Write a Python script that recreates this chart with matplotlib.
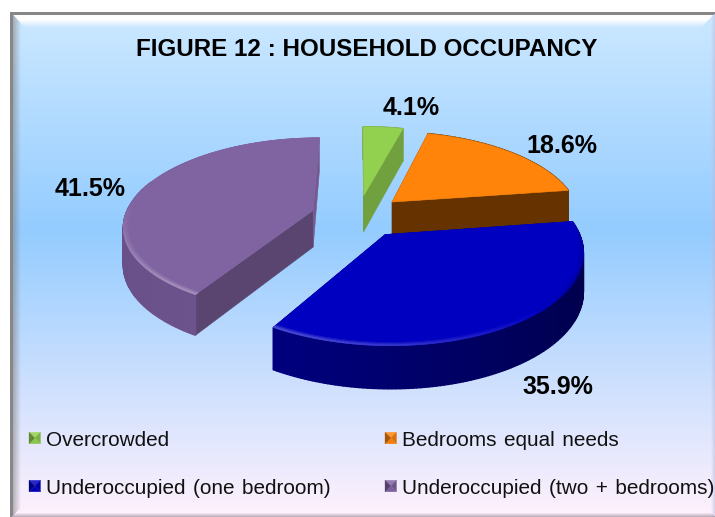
# -*- coding: utf-8 -*-
import numpy as np
import matplotlib
matplotlib.use('Agg')
import matplotlib.pyplot as plt
from matplotlib.patches import Polygon

title = 'FIGURE 12 : HOUSEHOLD OCCUPANCY'
# hair spaces give the wider word gaps of the original legend
categories = ['Overcrowded', 'Bedrooms \u200aequal \u200aneeds',
              'Underoccupied \u200a(one \u200abedroom)', 'Underoccupied \u200a(two \u200a+ \u200abedrooms)']
values = [4.1, 18.6, 35.9, 41.5]

top_colours = ['#92D050', '#FF8409', '#0000C0', '#8064A2']
radial_colours = ['#71A03E', '#663300', '#00007A', '#5A4570']
end_colours = ['#71A03E', '#663300', '#00007A', '#75598F']
# outer wall colour, left hand end and right hand end
wall_colours = [('#71A03E', '#71A03E'), ('#663300', '#663300'),
                ('#000090', '#00004C'), ('#6A5088', '#755C96')]
label_pos = [(411, 108), (562, 146), (558, 387), (90, 189)]
legend_pos = [(29, 438), (385, 438), (29, 486), (385, 486)]

W, H = 715, 517
# projection settings for the pie
CX, YH, CAM_H, DIST = 358, -311, 527, 1150
RADIUS, EXPLODE, DEPTH = 188, 47, 37


def project(u, v, z=0.0):
    s = DIST / (DIST + v)
    return CX + u * s, YH + CAM_H * s + z * s ** 0.7


def mix(c1, c2, t):
    c1 = np.array(matplotlib.colors.to_rgb(c1))
    c2 = np.array(matplotlib.colors.to_rgb(c2))
    return tuple(np.clip(c1 + (c2 - c1) * t, 0, 1))


def background():
    yy, xx = np.mgrid[0:H, 0:W]
    stops_y = [14, 230, 515]
    stops = np.array([[0.80, 0.91, 1.0], [0.58, 0.80, 1.0], [1.0, 0.945, 0.99]])
    img = np.dstack([np.interp(yy, stops_y, stops[:, i]) for i in range(3)])
    x0, y0, x1, y1 = 10, 12, 715, 517
    d_l, d_t, d_r, d_b = xx - x0, yy - y0, x1 - xx, y1 - yy
    d_min = np.minimum.reduce([d_l, d_t, d_r, d_b])
    white = np.array([1.0, 1.0, 1.0])
    grey = np.array([0.5, 0.5, 0.5])

    # bevel round the chart area
    m = (d_t == d_min) & (d_min >= 3)
    a = np.clip(1 - (d_t - 7) / 8, 0, 1)[..., None]
    img = np.where(m[..., None], img + (white - img) * a, img)
    m = (d_l == d_min) & (d_min >= 2)
    a = np.clip(0.75 - d_l / 14, 0, 1)[..., None]
    img = np.where(m[..., None], img + (grey - img) * a, img)
    m = (d_r == d_min) & (d_min < 5)
    a = np.clip(0.6 - d_r / 8, 0, 1)[..., None]
    img = np.where(m[..., None], img + (np.array([0.72, 0.72, 0.85]) - img) * a, img)
    m = (d_b == d_min) & (d_min < 5)
    a = np.clip(0.8 - d_b / 6, 0, 1)[..., None]
    img = np.where(m[..., None], img + (np.array([0.6, 0.55, 0.6]) - img) * a, img)
    m = (d_min < 3) & ((d_t == d_min) | (d_l == d_min))
    img = np.where(m[..., None], np.array([0.53, 0.53, 0.53]), img)
    img = np.where((d_l < 0)[..., None] | (d_t < 0)[..., None], white, img)
    return img


def draw_slice(ax, start, end, i):
    mid = np.radians((start + end) / 2)
    ou, ov = EXPLODE * np.sin(mid), EXPLODE * np.cos(mid)
    t = np.radians(np.arange(start, end + 0.5, 1.0))
    t[-1] = np.radians(end)
    au, av = ou + RADIUS * np.sin(t), ov + RADIUS * np.cos(t)

    # radial walls first, the top covers the hidden ones
    for k, cols in ((0, radial_colours), (-1, end_colours)):
        corners = [project(ou, ov), project(au[k], av[k]),
                   project(au[k], av[k], DEPTH), project(ou, ov, DEPTH)]
        ax.add_patch(Polygon(corners, fc=cols[i], ec=cols[i], lw=0.4))

    # outer wall in small pieces for the shading
    left, right = wall_colours[i]
    for j in range(len(t) - 1):
        if np.cos(t[j]) > 0.35 and i >= 2:
            continue
        f = (np.sin(t[j]) + 1) / 2
        c = mix(left, right, f)
        q = [project(au[j], av[j]), project(au[j + 1], av[j + 1]),
             project(au[j + 1], av[j + 1], DEPTH), project(au[j], av[j], DEPTH)]
        ax.add_patch(Polygon(q, fc=c, ec=c, lw=1.0))

    top = [project(ou, ov)] + [project(a, b) for a, b in zip(au, av)]
    ax.add_patch(Polygon(top, fc=top_colours[i], ec=top_colours[i], lw=0.4))

    # rounded rim on the front half of the two big slices
    if i >= 2:
        for j in range(len(t) - 1):
            front = np.clip(-np.cos(t[j]) + 0.15, 0, 1)
            glow = np.cos(t[j] - np.radians(225))
            for w, r in enumerate((RADIUS - 4.5, RADIUS - 3, RADIUS - 1.5)):
                if glow > 0:
                    c = mix(top_colours[i], '#FFFFFF', 0.10 * (w + 1) * glow * front)
                else:
                    c = mix(top_colours[i], '#000000', 0.20 * (w + 1) * -glow * front)
                u0, v0 = ou + r * np.sin(t[j]), ov + r * np.cos(t[j])
                u1, v1 = ou + (r + 1.5) * np.sin(t[j]), ov + (r + 1.5) * np.cos(t[j])
                u2, v2 = ou + (r + 1.5) * np.sin(t[j + 1]), ov + (r + 1.5) * np.cos(t[j + 1])
                u3, v3 = ou + r * np.sin(t[j + 1]), ov + r * np.cos(t[j + 1])
                ax.add_patch(Polygon([project(u0, v0), project(u1, v1), project(u2, v2),
                                      project(u3, v3)], fc=c, ec=c, lw=0.5))


def draw_swatch(ax, x, y, i, size=11.5):
    cx, cy = x + size / 2, y
    tl, tr = (x, y - size / 2), (x + size, y - size / 2)
    bl, br = (x, y + size / 2), (x + size, y + size / 2)
    base = top_colours[i]
    faces = [([tl, tr, (cx, cy)], mix(base, '#FFFFFF', 0.15)),
             ([tr, br, (cx, cy)], mix(base, '#000000', 0.15)),
             ([br, bl, (cx, cy)], mix(base, '#000000', 0.05)),
             ([bl, tl, (cx, cy)], mix(base, '#000000', 0.35))]
    for pts, c in faces:
        ax.add_patch(Polygon(pts, fc=c, ec=c, lw=0.2))


plt.rcParams['font.family'] = ['Liberation Sans', 'DejaVu Sans']
fig = plt.figure(figsize=(W / 100, H / 100), dpi=100)
ax = fig.add_axes([0, 0, 1, 1])
ax.imshow(background(), extent=(0, W, H, 0), interpolation='nearest', aspect='auto')
ax.set_xlim(0, W)
ax.set_ylim(H, 0)
ax.axis('off')

# work out the angles, clockwise from twelve o'clock
edges = np.concatenate([[0], np.cumsum(values)]) / np.sum(values) * 360
# back to front: purple, green, orange, blue
for i in (3, 0, 1, 2):
    draw_slice(ax, edges[i], edges[i + 1], i)

ax.text(367, 49, title, fontsize=17.4, fontweight='bold', ha='center', va='center', color='black')
for val, (x, y) in zip(values, label_pos):
    ax.text(x, y, f'{val}%', fontsize=18, fontweight='bold', ha='center', va='center', color='black')
for i, (name, (x, y)) in enumerate(zip(categories, legend_pos)):
    draw_swatch(ax, x, y, i)
    ax.text(x + 17, y + 2, name, fontsize=14.95, ha='left', va='center', color='#111111')

fig.savefig('out.png', dpi=100)
